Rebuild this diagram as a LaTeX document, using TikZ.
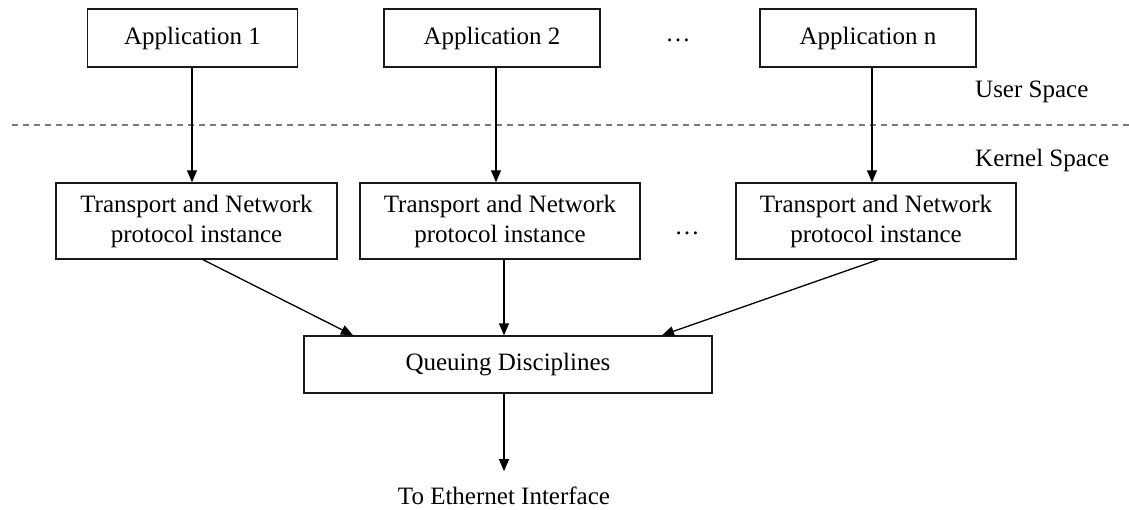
\documentclass[tikz,border=0pt]{standalone}
\usepackage{fontspec}
\setmainfont{Liberation Serif}
\usetikzlibrary{arrows.meta}
\begin{document}
\begin{tikzpicture}[x=1pt,y=-1pt,
  box/.style={draw=black!90,line width=1.4pt,inner sep=0pt,align=center,font=\fontsize{25}{30}\selectfont},
  lbl/.style={inner sep=0pt,font=\fontsize{25}{30}\selectfont},
  conn/.style={line width=1.3pt,-{Triangle[length=12pt,width=10pt]}},
  sep/.style={draw=black!52,line width=2.8pt,dash pattern=on 6pt off 5pt}]
\useasboundingbox (0,0) rectangle (1129,509);
\node[box,minimum width=210pt,minimum height=58pt] (app1) at (192.5,38) {Application 1};
\node[box,minimum width=216pt,minimum height=58pt] (app2) at (492,38) {Application 2};
\node[box,minimum width=216pt,minimum height=58pt] (appn) at (868,38) {Application n};
\node[lbl,anchor=base] (dots1) at (678,41) {\dots};
\node[lbl,anchor=west] (user) at (975,92) {User Space};
\node[lbl,anchor=west] (kernel) at (975,160) {Kernel Space};
\coordinate (sepL) at (12,125);
\coordinate (sepR) at (1129,125);
\draw[sep] (sepL) -- (sepR);
\node[box,minimum width=281pt,minimum height=76pt] (t1) at (196.5,221) {Transport and Network\\protocol instance};
\node[box,minimum width=280pt,minimum height=76pt] (t2) at (500,221) {Transport and Network\\protocol instance};
\node[box,minimum width=280pt,minimum height=76pt] (tn) at (876,221) {Transport and Network\\protocol instance};
\node[lbl,anchor=base] (dots2) at (687,234) {\dots};
\node[box,minimum width=408pt,minimum height=57pt] (q) at (508,364.5) {Queuing Disciplines};
\node[lbl,anchor=base] (eth) at (504,504) {To Ethernet Interface};
\draw[conn] ([xshift=-0.5pt]app1.south) -- ([xshift=-4.5pt]t1.north);
\draw[conn] ([xshift=4pt]app2.south) -- ([xshift=-4pt]t2.north);
\draw[conn] ([xshift=4pt]appn.south) -- ([xshift=-4pt]tn.north);
\draw[conn] ([xshift=6.5pt]t1.south) -- ([xshift=-155pt]q.north);
\draw[conn] ([xshift=4pt]t2.south) -- ([xshift=-4pt]q.north);
\draw[conn] ([xshift=2pt]tn.south) -- ([xshift=154pt]q.north);
\draw[conn] ([xshift=-4pt]q.south) -- ([xshift=0pt,yshift=15pt]eth.north);
\end{tikzpicture}
\end{document}
